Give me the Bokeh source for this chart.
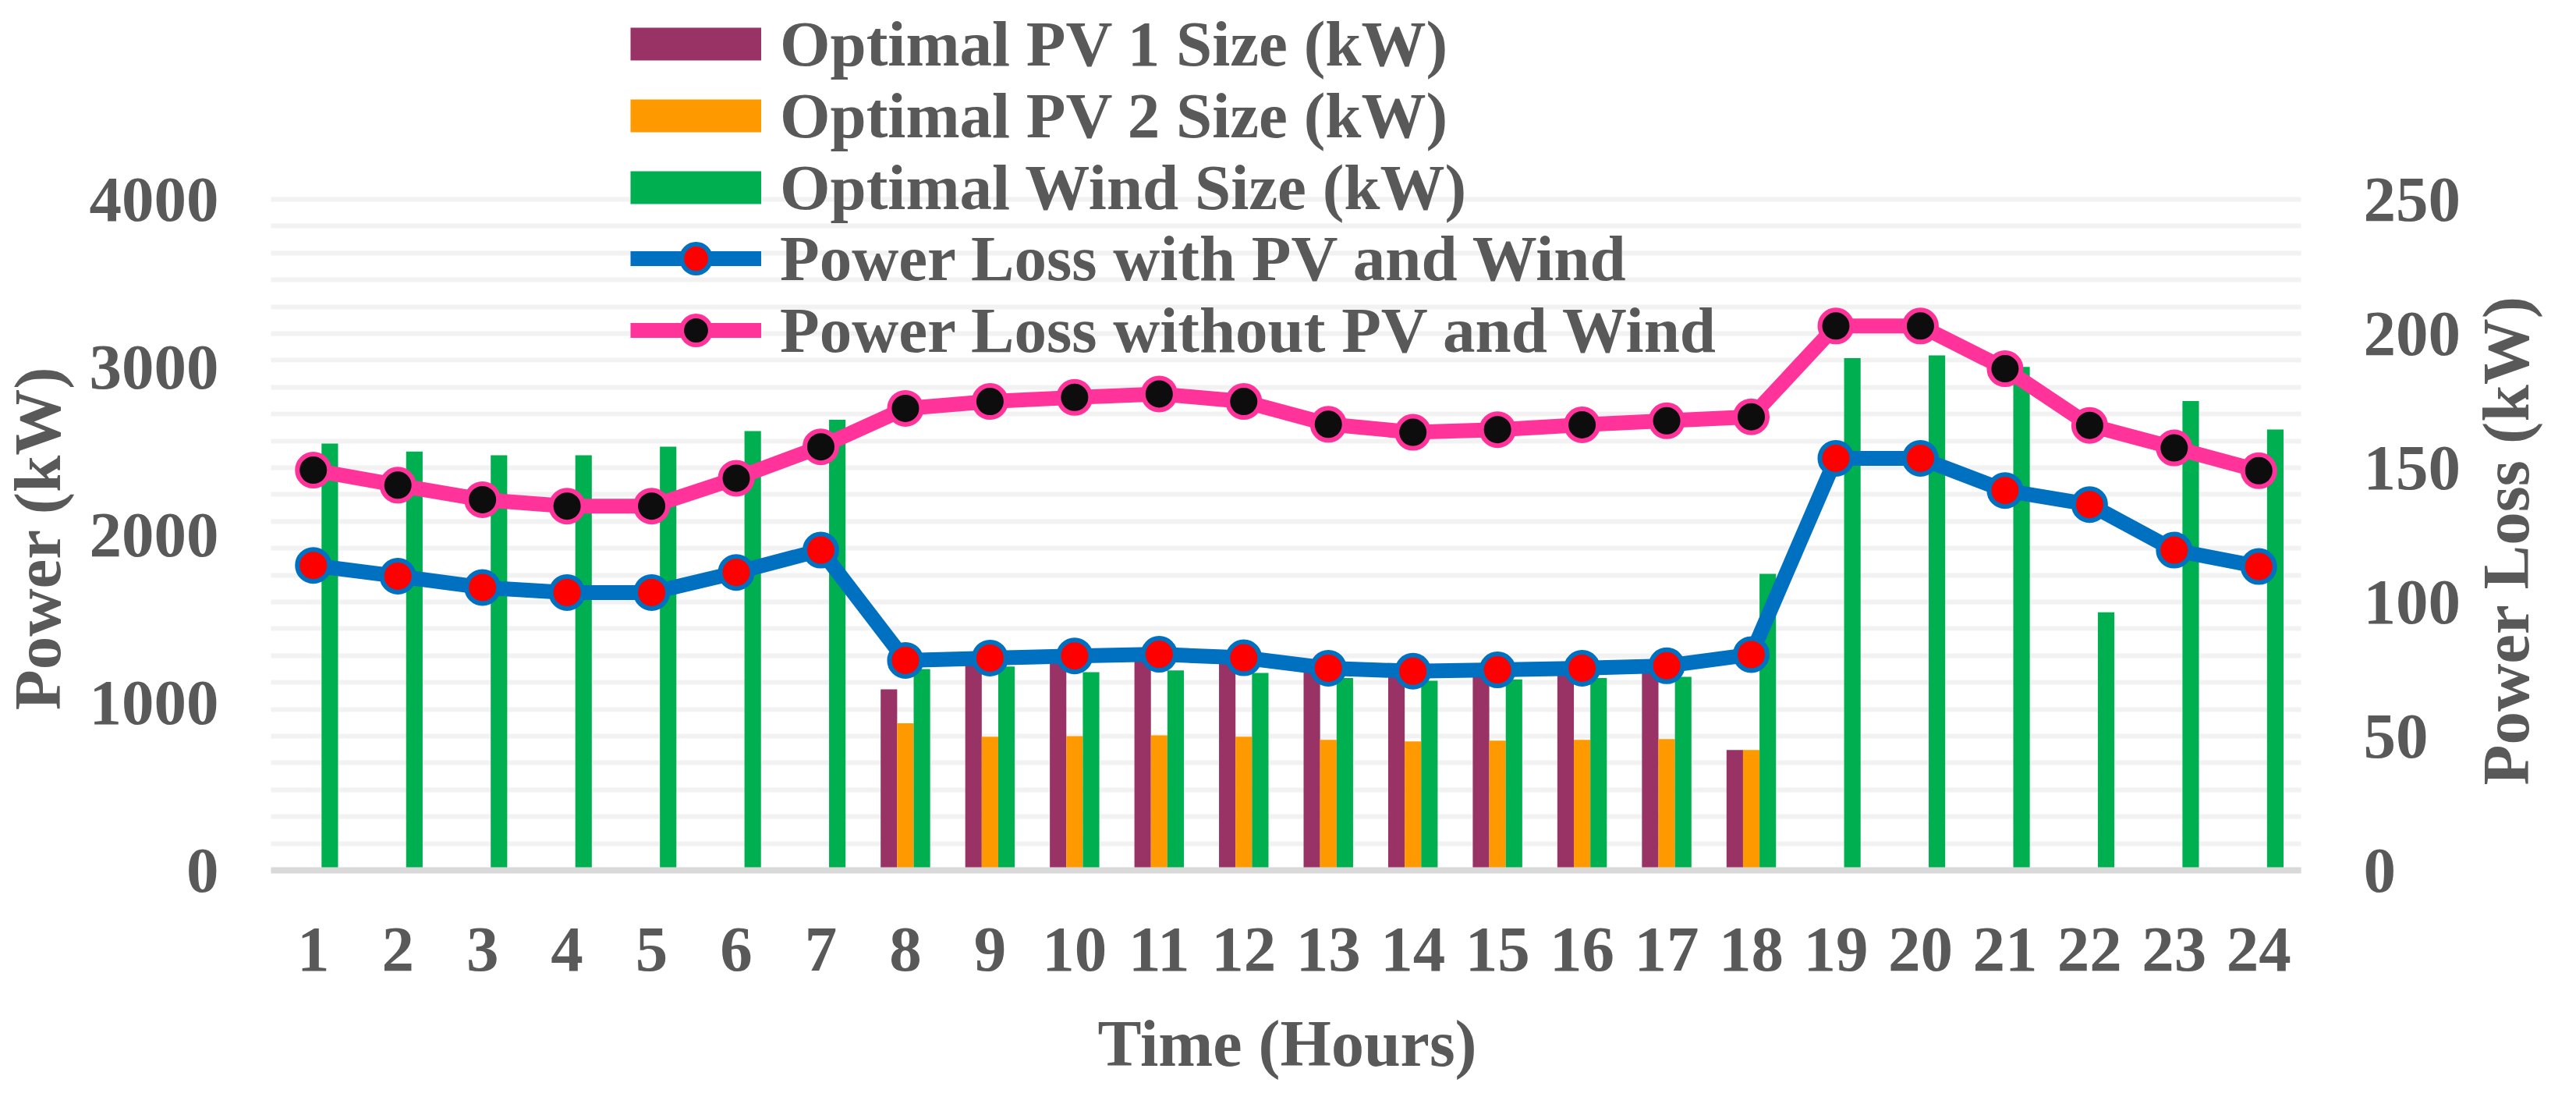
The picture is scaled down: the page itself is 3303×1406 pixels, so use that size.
import math

from bokeh.plotting import figure
from bokeh.models import (ColumnDataSource, Range1d, LinearAxis, Grid, Label, FixedTicker,
                          SingleIntervalTicker, Legend, LegendItem)
from bokeh.transform import dodge
from bokeh.embed import file_html
from bokeh.resources import INLINE

hours = [1, 2, 3, 4, 5, 6, 7, 8, 9, 10, 11, 12,
         13, 14, 15, 16, 17, 18, 19, 20, 21, 22, 23, 24]

pv1_size = [0, 0, 0, 0, 0, 0, 0, 1079, 1240, 1250, 1265, 1245,
            1190, 1170, 1180, 1185, 1195, 717, 0, 0, 0, 0, 0, 0]
pv2_size = [0, 0, 0, 0, 0, 0, 0, 877, 796, 800, 805, 796,
            778, 769, 773, 778, 782, 717, 0, 0, 0, 0, 0, 0]
wind_size = [2544, 2497, 2474, 2474, 2526, 2619, 2686, 1200, 1215, 1181, 1192, 1177,
             1146, 1130, 1138, 1146, 1153, 1768, 3053, 3070, 3001, 1538, 2798, 2628]

loss_with = [113.6, 109.6, 105.4, 103.5, 103.5, 111.0, 119.3, 78.2, 79.1, 79.9, 80.5, 79.2,
             75.3, 74.2, 74.7, 75.3, 76.2, 80.4, 153.5, 153.5, 141.5, 136.3, 119.3, 113.2]
loss_without = [149.1, 143.5, 138.1, 135.7, 135.7, 146.1, 157.8, 172.1, 174.7, 176.2, 177.5, 174.7,
                166.2, 163.2, 164.2, 166.0, 167.5, 169.0, 202.8, 202.8, 186.9, 165.8, 157.4, 148.9]

FONT = "Liberation Serif"
GREY = "#595959"
PURPLE = "#993366"
ORANGE = "#ff9900"
GREEN = "#00b050"
BLUE = "#0070c0"
PINK = "#ff3399"

# the frame fills the whole canvas so that the legend and the titles can sit anywhere;
# the plot area proper runs from x=347..2950 and y=255..1115 (canvas pixels)
W, H = 3287, 1390
PL, PR, PT, PB = 347, 2950, 255, 1115
xpp = 24 / (PR - PL)
ypp = 4000 / (PB - PT)

src = ColumnDataSource(dict(hour=hours, pv1=pv1_size, pv2=pv2_size, wind=wind_size,
                            loss_with=loss_with, loss_without=loss_without))

p = figure(width=W, height=H,
           x_range=Range1d(0.5 - PL * xpp, 0.5 + (W - PL) * xpp),
           y_range=Range1d(-(H - PB) * ypp, PB * ypp),
           output_backend="svg", toolbar_location=None,
           min_border_left=0, min_border_right=0, min_border_top=0, min_border_bottom=0)
p.outline_line_color = None
p.extra_y_ranges = {"loss": Range1d(-(H - PB) * ypp / 16, PB * ypp / 16)}

# gridlines every 10 kW of the loss axis, only across the plot area
p.xgrid.visible = False
p.ygrid.visible = False
p.add_layout(Grid(dimension=1, y_range_name="loss", ticker=SingleIntervalTicker(interval=10),
                  bounds=(0, 250), cross_bounds=(0.5, 24.5),
                  grid_line_color="#f2f2f2", grid_line_width=6))

bw = 0.195
p.vbar(x=dodge("hour", -bw), top="pv1", width=bw, source=src, fill_color=PURPLE, line_color=None)
p.vbar(x=dodge("hour", 0), top="pv2", width=bw, source=src, fill_color=ORANGE, line_color=None)
p.vbar(x=dodge("hour", bw), top="wind", width=bw, source=src, fill_color=GREEN, line_color=None)

l1 = p.line("hour", "loss_with", source=src, y_range_name="loss", line_color=BLUE,
            line_width=19, line_join="round")
m1 = p.scatter("hour", "loss_with", source=src, y_range_name="loss", size=41,
               fill_color="#ff0000", line_color=BLUE, line_width=6)
l2 = p.line("hour", "loss_without", source=src, y_range_name="loss", line_color=PINK,
            line_width=19, line_join="round")
m2 = p.scatter("hour", "loss_without", source=src, y_range_name="loss", size=41,
               fill_color="#0d0d0d", line_color=PINK, line_width=6)

# legend swatches for the bars: thick lines with no drawable point give a flat centred box
nan = float("nan")
s1 = p.line([nan], [nan], line_color=PURPLE, line_width=42)
s2 = p.line([nan], [nan], line_color=ORANGE, line_width=42)
s3 = p.line([nan], [nan], line_color=GREEN, line_width=42)

legend_entries = [
    ("Optimal PV 1 Size (kW)", [s1]),
    ("Optimal PV 2 Size (kW)", [s2]),
    ("Optimal Wind Size (kW)", [s3]),
    ("Power Loss with PV and Wind", [l1, m1]),
    ("Power Loss without PV and Wind", [l2, m2]),
]
# one single-row legend per entry so the row pitch is exact (rows centred at y=49 + 91.75*i)
for i, (label, rends) in enumerate(legend_entries):
    row_centre = 49 + 91.75 * i
    p.add_layout(Legend(items=[LegendItem(label=label, renderers=rends)],
                        location=(808, H - (row_centre + 55)), glyph_width=168, glyph_height=92,
                        label_height=92, spacing=0, padding=0, margin=0, label_standoff=24,
                        border_line_color=None, background_fill_alpha=0,
                        label_text_font=FONT, label_text_font_size="83px",
                        label_text_font_style="bold", label_text_color=GREY))

# axes pinned to the plot-area edges
xa = p.xaxis[0]
xa.fixed_location = 0
xa.bounds = (0.5, 24.5)
xa.ticker = FixedTicker(ticks=hours)
xa.axis_line_color = "#d9d9d9"
xa.axis_line_width = 8
xa.major_label_standoff = 68

ya = p.yaxis[0]
ya.fixed_location = 0.5
ya.bounds = (0, 4000)
ya.ticker = SingleIntervalTicker(interval=1000, num_minor_ticks=0)
ya.axis_line_color = None
ya.major_label_standoff = 61

ra = LinearAxis(y_range_name="loss", fixed_location=24.5, bounds=(0, 250),
                ticker=SingleIntervalTicker(interval=50, num_minor_ticks=0))
ra.axis_line_color = None
ra.major_label_standoff = 74
p.add_layout(ra, "right")

for ax in (xa, ya, ra):
    ax.major_tick_line_color = None
    ax.minor_tick_line_color = None
    ax.major_label_text_font = FONT
    ax.major_label_text_font_size = "83px"
    ax.major_label_text_font_style = "bold"
    ax.major_label_text_color = GREY

title_style = dict(x_units="screen", y_units="screen", text_align="center",
                   text_baseline="middle", text_font=FONT, text_font_style="bold",
                   text_color=GREY)
p.add_layout(Label(x=47, y=H - 689, angle=math.pi / 2, text="Power (kW)",
                   text_font_size="85px", **title_style))
p.add_layout(Label(x=3212, y=H - 692, angle=math.pi / 2, text="Power Loss (kW)",
                   text_font_size="85px", **title_style))
p.add_layout(Label(x=1650, y=H - 1337, text="Time (Hours)",
                   text_font_size="84px", **title_style))

open("out.html", "w").write(file_html(p, INLINE))
